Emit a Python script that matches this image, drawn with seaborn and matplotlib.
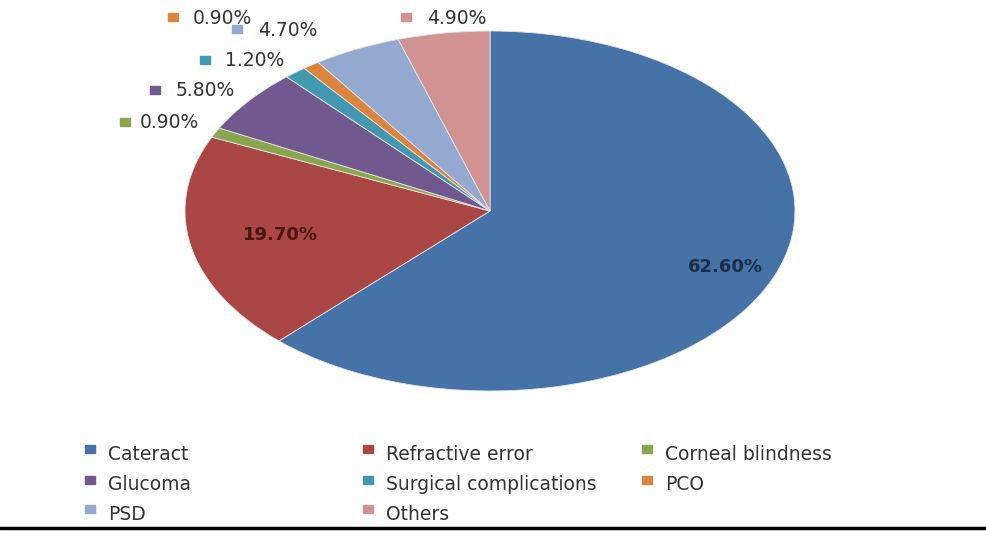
import numpy as np
import matplotlib.pyplot as plt
import seaborn as sns
from matplotlib.patches import Rectangle
from matplotlib.lines import Line2D

# data
causes = ['Cateract', 'Refractive error', 'Corneal blindness', 'Glucoma',
          'Surgical complications', 'PCO', 'PSD', 'Others']
shares = [62.6, 19.7, 0.9, 5.8, 1.2, 0.9, 4.7, 4.9]
pct_labels = ['62.60%', '19.70%', '0.90%', '5.80%', '1.20%', '0.90%', '4.70%', '4.90%']
colors = ['#4572A7', '#AA4643', '#89A54E', '#71588F',
          '#4198AF', '#DB843D', '#93A9CF', '#D19392']

sns.set_theme(style='white')
plt.rcParams['font.family'] = ['DejaVu Sans']

W, H = 987, 534
fig = plt.figure(figsize=(W / 100, H / 100), dpi=100)
fig.patch.set_facecolor('white')


def fx(px):
    return px / W


def fy(py):
    return 1 - py / H


# pie drawn as an ellipse (Excel style, stretched plot area)
ax = fig.add_axes([fx(185), fy(391), 610 / W, 360 / H])
wedges, _ = ax.pie(shares, colors=colors, startangle=90, counterclock=False,
                   wedgeprops=dict(edgecolor='#e4e4e4', linewidth=0.6))
ax.set_aspect('auto')
ax.set_xlim(-1, 1)
ax.set_ylim(-1, 1)
ax.axis('off')

# inside labels for the two big slices
frac = np.array(shares) / sum(shares)
ends = 90 - 360 * np.cumsum(frac)
mids = ends + 180 * frac
inside = {0: (0.83, '#1c2c48'), 1: (0.70, '#4a1512')}
for i, (r, c) in inside.items():
    a = np.deg2rad(mids[i])
    ax.text(r * np.cos(a), r * np.sin(a), pct_labels[i], ha='center', va='center',
            fontsize=13, color=c, fontweight='bold')

# outside labels with small colour keys (pixel positions: key x, y, text x)
outside = {5: (173, 17, 193), 6: (237, 29, 258), 7: (406, 17, 427),
           4: (205, 60, 225), 3: (155, 90, 176), 2: (125, 122, 140)}
for i, (kx, ky, tx) in outside.items():
    fig.add_artist(Rectangle((fx(kx - 5), fy(ky + 4)), 10 / W, 8 / H,
                             transform=fig.transFigure, color=colors[i]))
    fig.text(fx(tx), fy(ky + 1), pct_labels[i], ha='left', va='center',
             fontsize=13.5, color='#333333')

# legend laid out in rows of three, like the original
col_x = [90, 368, 647]
row_y = [454, 485, 514]
for k, (name, c) in enumerate(zip(causes, colors)):
    cx = col_x[k % 3]
    cy = row_y[k // 3]
    fig.add_artist(Rectangle((fx(cx - 5), fy(cy - 1)), 10 / W, 8 / H,
                             transform=fig.transFigure, color=c))
    fig.text(fx(cx + 18), fy(cy), name, ha='left', va='center',
             fontsize=13.5, color='#333333')

# black rule at the bottom
fig.add_artist(Line2D([0, fx(985)], [fy(528), fy(528)], transform=fig.transFigure,
                      color='black', linewidth=2.5))

fig.savefig('out.png', dpi=100)
